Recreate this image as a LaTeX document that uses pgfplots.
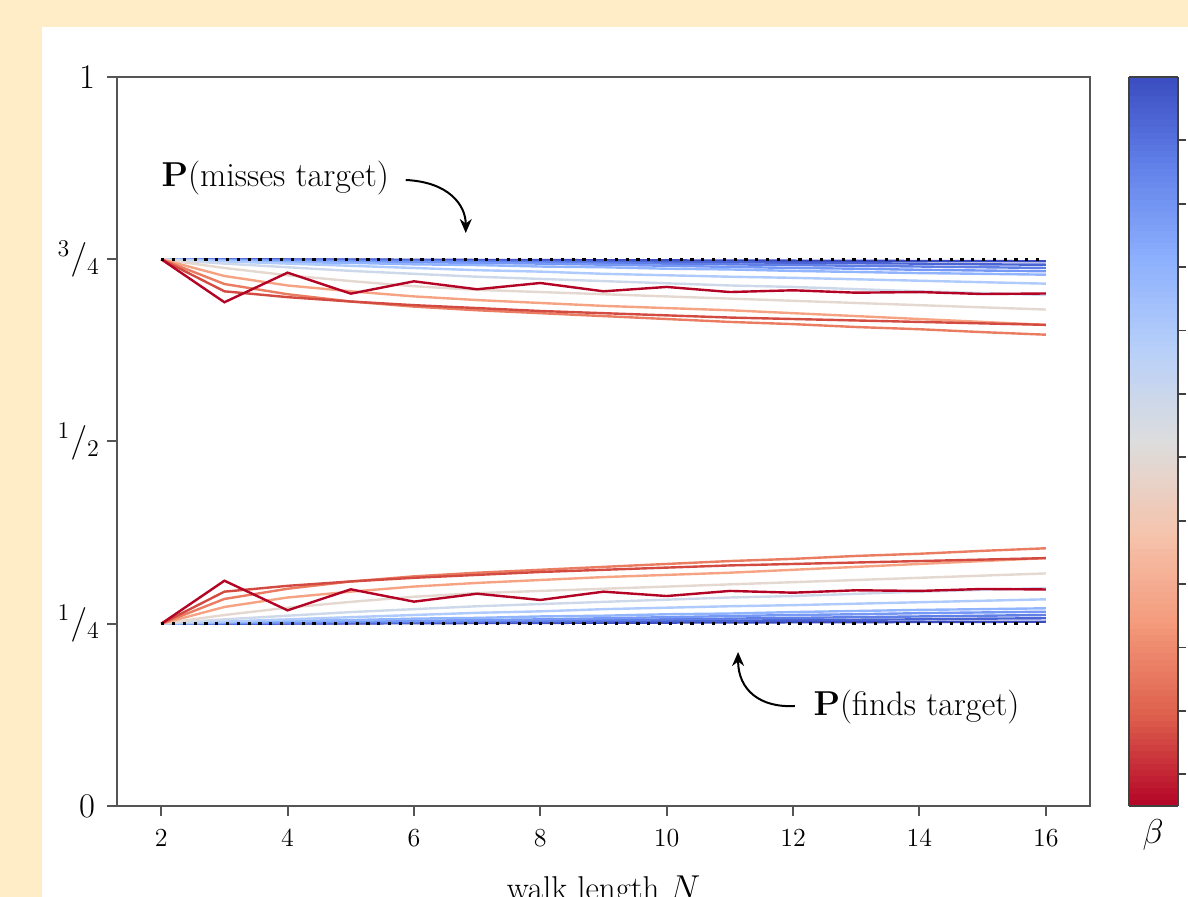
\documentclass[border=0pt]{standalone}
\usepackage{pgfplots}
\usepackage{pgfplotstable}
\pgfplotsset{compat=1.18}
\usetikzlibrary{arrows.meta}
\definecolor{cream}{RGB}{255,237,199}
\definecolor{spine}{RGB}{85,85,85}
\definecolor{c0}{RGB}{180,4,38}
\definecolor{c1}{RGB}{210,74,64}
\definecolor{c2}{RGB}{234,124,97}
\definecolor{c3}{RGB}{246,163,132}
\definecolor{c4}{RGB}{228,216,208}
\definecolor{c5}{RGB}{205,217,235}
\definecolor{c6}{RGB}{175,202,252}
\definecolor{c7}{RGB}{145,180,254}
\definecolor{c8}{RGB}{117,152,246}
\definecolor{c9}{RGB}{95,127,230}
\definecolor{c10}{RGB}{75,100,212}
\definecolor{c11}{RGB}{59,76,192}

\pgfplotstableread{
N  u0     u1    u2     u3    u4    u5     u6     u7     u8     u9     u10    u11
2  0.750  0.750 0.750  0.750 0.750 0.750  0.750  0.750  0.750  0.750  0.750  0.750
3  0.691  0.706 0.716  0.727 0.738 0.744  0.747  0.748  0.749  0.7495 0.7497 0.7499
4  0.7316 0.698 0.702  0.714 0.728 0.739  0.744  0.746  0.748  0.749  0.7494 0.7497
5  0.7028 0.692 0.692  0.706 0.720 0.734  0.741  0.745  0.747  0.748  0.749  0.7495
6  0.7197 0.687 0.685  0.699 0.713 0.730  0.738  0.743  0.746  0.7475 0.7485 0.7493
7  0.7088 0.683 0.680  0.694 0.708 0.726  0.735  0.742  0.745  0.747  0.748  0.749
8  0.7174 0.679 0.676  0.690 0.705 0.723  0.733  0.740  0.744  0.746  0.7475 0.7488
9  0.7060 0.676 0.672  0.686 0.702 0.720  0.730  0.739  0.7425 0.745  0.747  0.7486
10 0.7120 0.673 0.668  0.683 0.699 0.717  0.728  0.737  0.741  0.744  0.7465 0.7484
11 0.7050 0.670 0.664  0.680 0.696 0.714  0.726  0.736  0.7395 0.743  0.746  0.7482
12 0.7074 0.668 0.661  0.676 0.693 0.712  0.7245 0.734  0.738  0.742  0.745  0.748
13 0.7041 0.666 0.657  0.672 0.690 0.709  0.7225 0.7325 0.737  0.741  0.7445 0.7478
14 0.7050 0.664 0.654  0.668 0.687 0.706  0.7205 0.731  0.7355 0.740  0.744  0.7476
15 0.7023 0.662 0.650  0.664 0.684 0.7035 0.7185 0.730  0.7345 0.739  0.743  0.7474
16 0.7030 0.660 0.6465 0.660 0.681 0.701  0.7165 0.7288 0.7335 0.738  0.7425 0.7472
}\uppertab

\pgfplotstableread{
N  l0     l1    l2     l3    l4    l5     l6     l7     l8     l9     l10    l11
2  0.250  0.250 0.250  0.250 0.250 0.250  0.250  0.250  0.250  0.250  0.250  0.250
3  0.309  0.294 0.284  0.273 0.262 0.256  0.253  0.252  0.251  0.2505 0.2503 0.2501
4  0.2684 0.302 0.298  0.286 0.272 0.261  0.256  0.254  0.252  0.251  0.2506 0.2503
5  0.2972 0.308 0.308  0.294 0.280 0.266  0.259  0.255  0.253  0.252  0.251  0.2505
6  0.2803 0.313 0.315  0.301 0.287 0.270  0.262  0.257  0.254  0.2525 0.2515 0.2507
7  0.2912 0.317 0.320  0.306 0.292 0.274  0.265  0.258  0.255  0.253  0.252  0.251
8  0.2826 0.321 0.324  0.310 0.295 0.277  0.267  0.260  0.256  0.254  0.2525 0.2512
9  0.2940 0.324 0.328  0.314 0.298 0.280  0.270  0.261  0.2575 0.255  0.253  0.2514
10 0.2880 0.327 0.332  0.317 0.301 0.283  0.272  0.263  0.259  0.256  0.2535 0.2516
11 0.2950 0.330 0.336  0.320 0.304 0.286  0.274  0.264  0.2605 0.257  0.254  0.2518
12 0.2926 0.332 0.339  0.324 0.307 0.288  0.2755 0.266  0.262  0.258  0.255  0.252
13 0.2959 0.334 0.343  0.328 0.310 0.291  0.2775 0.2675 0.263  0.259  0.2555 0.2522
14 0.2950 0.336 0.346  0.332 0.313 0.294  0.2795 0.269  0.2645 0.260  0.256  0.2524
15 0.2977 0.338 0.350  0.336 0.316 0.2965 0.2815 0.270  0.2655 0.261  0.257  0.2526
16 0.2970 0.340 0.3535 0.340 0.319 0.299  0.2835 0.2712 0.2665 0.262  0.2575 0.2528
}\lowertab

\pgfplotstableread{
N  v
2  0.75
16 0.75
}\toplinetab
\pgfplotstableread{
N  v
2  0.25
16 0.25
}\botlinetab

\begin{document}
\begin{tikzpicture}
\fill[cream] (0,0) rectangle (594pt,448.5pt);
\fill[white] (21pt,0) rectangle (594pt,435pt);
\begin{axis}[
  name=main,
  at={(58.5pt,45.5pt)}, anchor=south west,
  scale only axis, width=486.5pt, height=364.5pt,
  xmin=1.3, xmax=16.7, ymin=0, ymax=1,
  xtick={2,4,...,16},
  ytick={0,0.25,0.5,0.75,1},
  yticklabels={{\fontsize{18}{18}\selectfont$0$\kern2.5pt},
               {\fontsize{17}{17}\selectfont${}^{1}/_{4}$},
               {\fontsize{17}{17}\selectfont${}^{1}/_{2}$},
               {\fontsize{17}{17}\selectfont${}^{3}/_{4}$},
               {\fontsize{18}{18}\selectfont$1$\kern2.5pt}},
  tick pos=left, tick align=outside,
  major tick length=5pt,
  axis line style={spine, line width=1.2pt},
  every tick/.style={spine, line width=1pt},
  /pgf/number format/assume math mode=true,
  xticklabel style={font=\fontsize{13}{15}\selectfont, yshift=-3pt},
  xlabel={walk length $N$},
  xlabel style={at={(axis description cs:0.5,-0.1276)}, anchor=base, font=\fontsize{16.5}{18}\selectfont},
  colormap={coolwarmr}{rgb255=(180,4,38) rgb255=(222,96,77) rgb255=(244,154,123) rgb255=(245,196,173) rgb255=(221,221,221) rgb255=(184,208,249) rgb255=(141,176,254) rgb255=(98,130,234) rgb255=(59,76,192)},
  colorbar sampled,
  point meta min=0, point meta max=11.5,
  colorbar shift/.style={xshift=19.5pt},
  colorbar style={at={(parent axis.north east)}, anchor=north west,
    width=24.5pt, samples=120,
    ytick={0.5,1.5,...,10.5}, yticklabels={},
    ytick pos=right, tick align=outside, major tick length=4pt,
    axis line style={black!75, line width=1pt},
    every tick/.style={black!75, line width=0.9pt}},
]
\pgfplotsinvokeforeach{11,10,...,0}{
  \addplot[c#1, line width=1.2pt, no marks] table[x=N, y=u#1] {\uppertab};
  \addplot[c#1, line width=1.2pt, no marks] table[x=N, y=l#1] {\lowertab};
}
\addplot[black, line width=1.5pt, dash pattern=on 1.6pt off 3.8pt, no marks] table[x=N, y=v] {\toplinetab};
\addplot[black, line width=1.5pt, dash pattern=on 1.6pt off 3.8pt, no marks] table[x=N, y=v] {\botlinetab};

\node[anchor=west, font=\fontsize{17}{19}\selectfont, inner sep=0pt] at (axis cs:2.0,0.8615) {$\mathbf{P}$(misses target)};
\draw[-{Stealth[length=7pt,width=6pt]}, line width=1pt] (axis cs:5.87,0.8587) .. controls (axis cs:6.55,0.856) and (axis cs:6.82,0.8244) .. (axis cs:6.82,0.786);
\node[anchor=east, font=\fontsize{17}{19}\selectfont, inner sep=0pt] at (axis cs:15.59,0.1358) {$\mathbf{P}$(finds target)};
\draw[-{Stealth[length=7pt,width=6pt]}, line width=1pt] (axis cs:12.03,0.1372) .. controls (axis cs:11.48,0.1344) and (axis cs:11.13,0.159) .. (axis cs:11.13,0.2112);
\end{axis}
\node[anchor=base, font=\fontsize{16.5}{18}\selectfont] at (576.5pt,26.5pt) {$\beta$};
\pgfresetboundingbox
\useasboundingbox (0,0) rectangle (594pt,448.5pt);
\end{tikzpicture}
\end{document}
